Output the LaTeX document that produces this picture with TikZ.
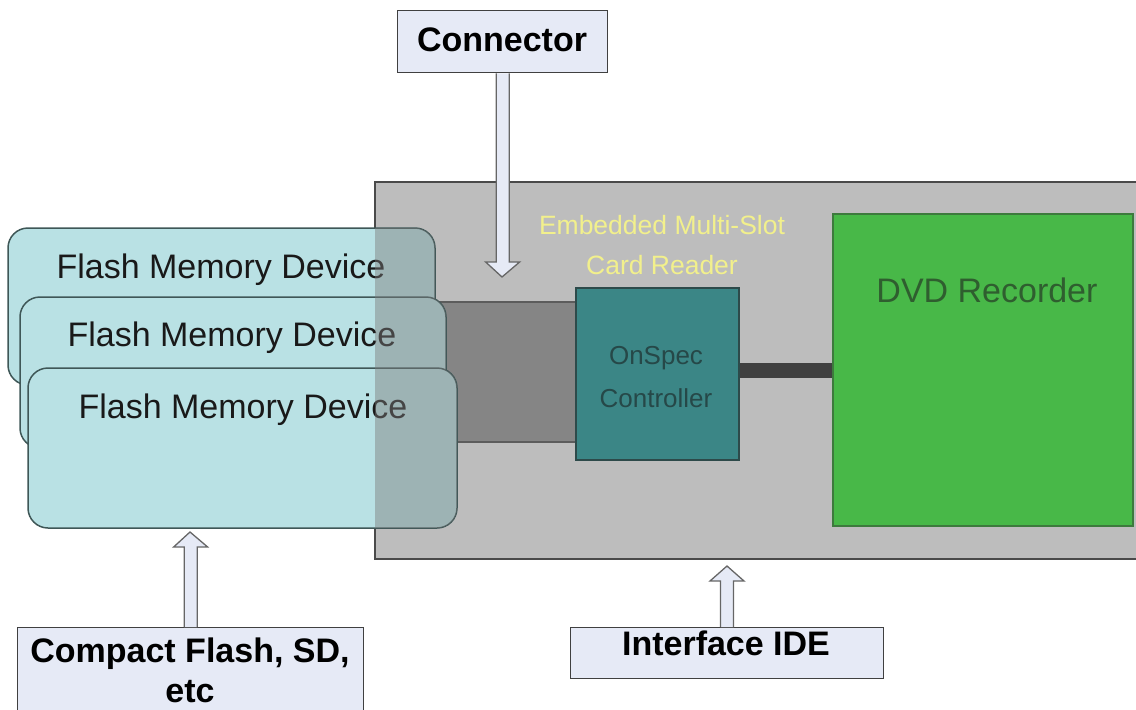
\documentclass[tikz,border=0pt]{standalone}
\usepackage{fontspec}
\setmainfont{Liberation Sans}
\usetikzlibrary{calc}
\definecolor{panelgray}{HTML}{BDBDBD}
\definecolor{panelline}{HTML}{4A4A4A}
\definecolor{barfill}{HTML}{858585}
\definecolor{cardfill}{HTML}{B9E1E4}
\definecolor{cardline}{HTML}{3F5757}
\definecolor{ctrlfill}{HTML}{3B8686}
\definecolor{ctrlline}{HTML}{2D4A4A}
\definecolor{ctrltext}{HTML}{264848}
\definecolor{dvdfill}{HTML}{48B848}
\definecolor{dvdline}{HTML}{3D7A3D}
\definecolor{dvdtext}{HTML}{2F5E2F}
\definecolor{ytext}{HTML}{F2F08C}
\definecolor{boxfill}{HTML}{E6EAF6}
\definecolor{boxline}{HTML}{404040}
\definecolor{ovgray}{RGB}{123,123,123}
\newcommand\vbarrow[2]{%
  \draw[blockarrow] let \p1=(#1), \p2=(#2), \n1={sign(\y2-\y1)} in
    (\x1-6.5pt,\y1) -- (\x1-6.5pt,\y2-\n1*15pt) -- (\x1-17pt,\y2-\n1*15pt) -- (\x2,\y2)
    -- (\x1+17pt,\y2-\n1*15pt) -- (\x1+6.5pt,\y2-\n1*15pt) -- (\x1+6.5pt,\y1);}
\tikzset{
  blockarrow/.style={fill=boxfill, draw=boxline!80, line width=1.3pt, line join=miter},
  labelbox/.style={draw=boxline, fill=boxfill, line width=1.3pt, anchor=north west, inner sep=0pt},
  boldtxt/.style={font=\fontsize{34}{40}\selectfont\bfseries, text=black, inner sep=0pt, align=center},
  cardbox/.style={draw=cardline, fill=cardfill, line width=1.5pt, rounded corners=20pt},
  cardtxt/.style={font=\fontsize{34}{40}\selectfont, text=black!90, inner sep=0pt},
}
\begin{document}
\begin{tikzpicture}[x=1pt,y=-1pt]
\useasboundingbox (0,0) rectangle (1136,710);
% main panel
\fill[panelgray] (375,182) rectangle (1150,559);
\draw[panelline, line width=2pt] (1150,182) -- (375,182) -- (375,559) -- (1150,559);
% gray connector bar
\fill[barfill] (400,302) rectangle (575,442);
\draw[panelline!90, line width=1.5pt] (400,302) -- (575,302) (400,442) -- (575,442);
% controller
\node[draw=ctrlline, fill=ctrlfill, line width=1.5pt, minimum width=163pt, minimum height=172pt, anchor=north west, inner sep=0pt] (ctrl) at (575,287) {};
\node[font=\fontsize{26}{43}\selectfont, text=ctrltext, align=center, inner sep=0pt] (ctrllbl) at (656,377) {OnSpec\\Controller};
% DVD recorder
\node[draw=dvdline, fill=dvdfill, line width=1.5pt, minimum width=300pt, minimum height=312pt, anchor=north west, inner sep=0pt] (dvd) at (832,213) {};
\node[font=\fontsize{34}{40}\selectfont, text=dvdtext, inner sep=0pt] (dvdlbl) at (987,290) {DVD Recorder};
% dark link between controller and DVD
\fill[black!75] (ctrl.east |- 0,363) rectangle (dvd.west |- 0,378);
% card reader title
\node[font=\fontsize{26.5}{40}\selectfont, text=ytext, align=center, inner sep=0pt] (title) at (662,245) {Embedded Multi-Slot\\Card Reader};
% flash cards
\draw[cardbox] (8,228) rectangle (435,385);
\node[cardtxt] (c1) at (221,270) {Flash Memory Device};
\draw[cardbox] (20,297) rectangle (446,448);
\node[cardtxt] (c2) at (232,338) {Flash Memory Device};
\draw[cardbox] (28,368) rectangle (457,528);
\node[cardtxt] (c3) at (243,410) {Flash Memory Device};
% panel overlay over cards
\begin{scope}
  \clip (375,182) rectangle (1150,559);
  \fill[ovgray, opacity=0.45, rounded corners=20pt]
    (8,228) rectangle (435,385) (20,297) rectangle (446,448) (28,368) rectangle (457,528);
\end{scope}
% label boxes
\node[labelbox, minimum width=210pt, minimum height=62pt] (conn) at (397,10) {};
\node[boldtxt] (connlbl) at (502,40) {Connector};
\node[labelbox, minimum width=346pt, minimum height=110pt] (cf) at (17,627) {};
\node[boldtxt] (cflbl) at (190,670) {Compact Flash, SD,\\etc};
\node[labelbox, minimum width=313pt, minimum height=51pt] (ide) at (570,627) {};
\node[boldtxt] (idelbl) at (726,643) {Interface IDE};
% arrows
\coordinate (t1) at (502,277);
\coordinate (t2) at (190,532);
\coordinate (t3) at (727,566);
\vbarrow{conn.south}{t1}
\vbarrow{cf.north}{t2}
\vbarrow{ide.north -| t3}{t3}
\end{tikzpicture}
\end{document}
